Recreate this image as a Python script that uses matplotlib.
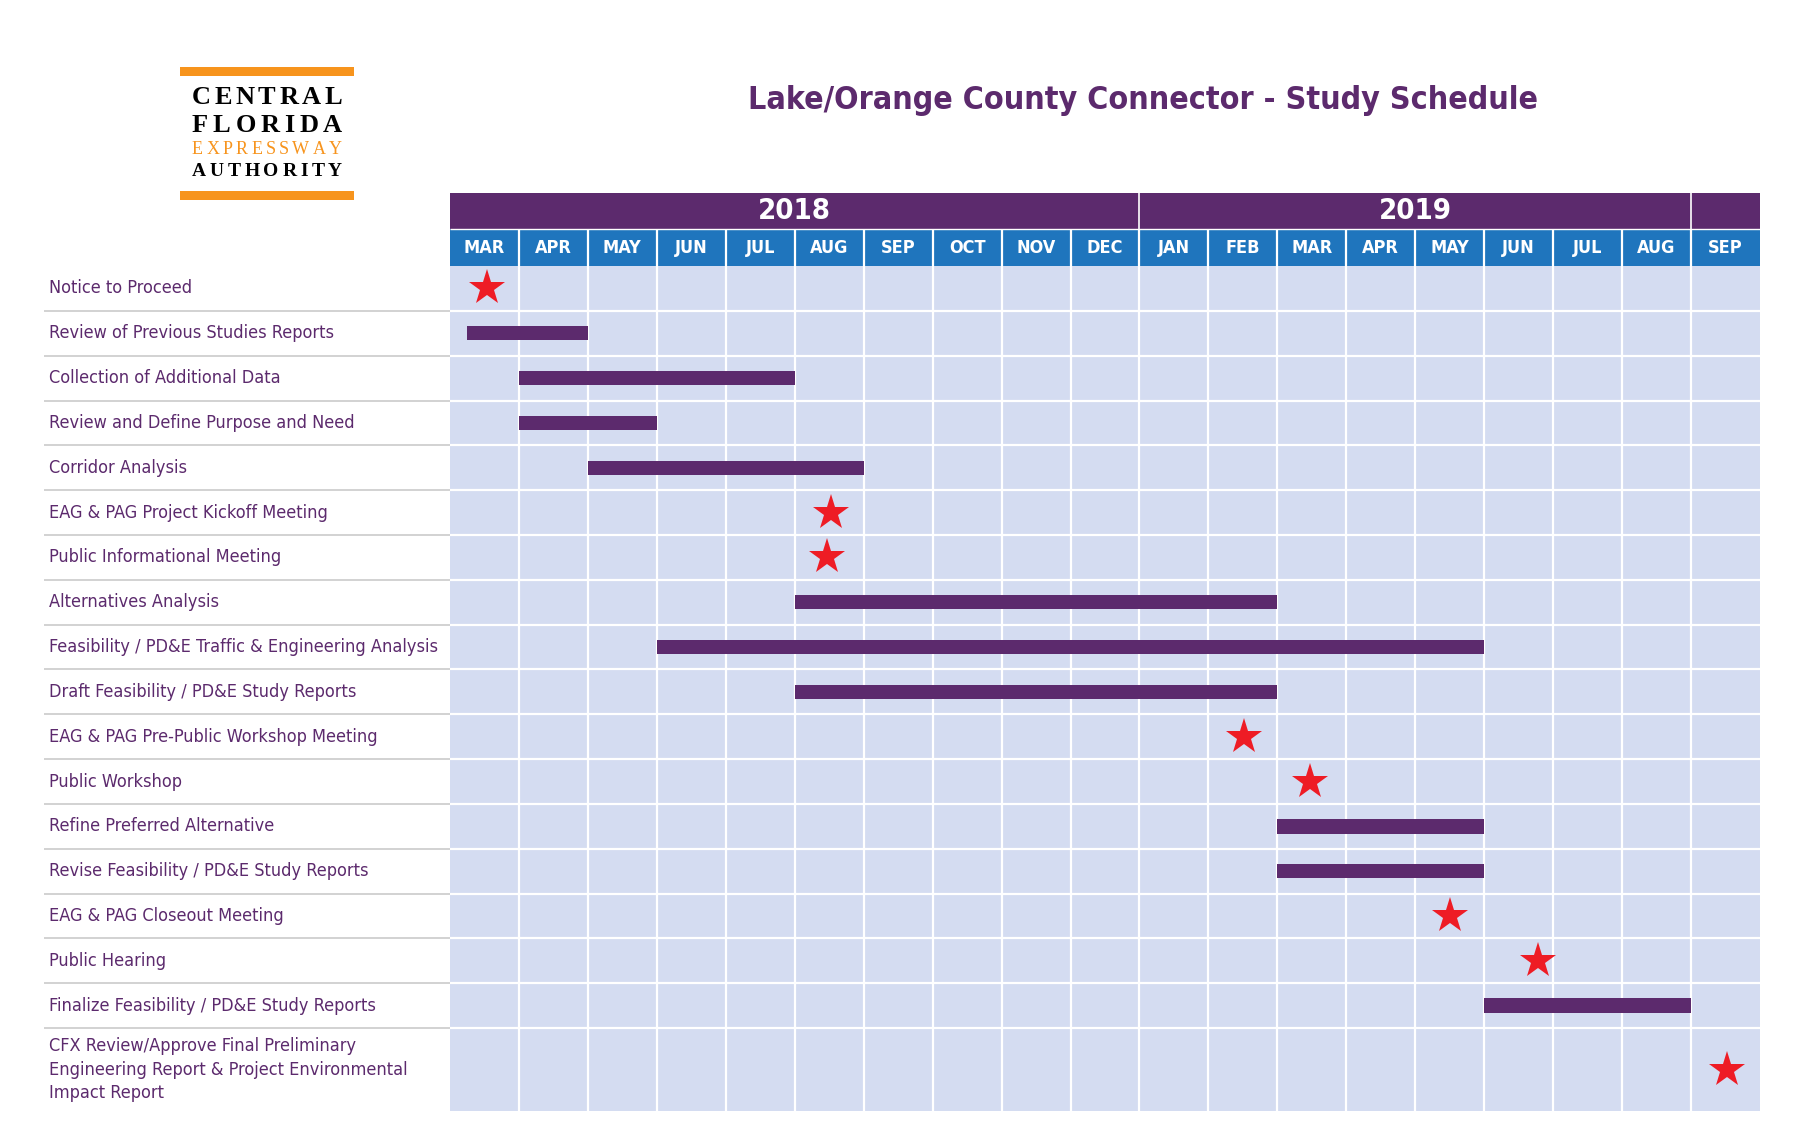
import os
import matplotlib
matplotlib.use("Agg")
import matplotlib.pyplot as plt
from matplotlib.patches import Rectangle
from matplotlib import font_manager
from matplotlib.font_manager import FontProperties
import numpy as np

# --- data -----------------------------------------------------------------
months = ["MAR", "APR", "MAY", "JUN", "JUL", "AUG", "SEP", "OCT", "NOV", "DEC",
          "JAN", "FEB", "MAR", "APR", "MAY", "JUN", "JUL", "AUG", "SEP"]
years = ["2018", "2019", ""]
year_start = [0, 10, 18]
year_end = [10, 18, 19]

tasks = [
    "Notice to Proceed",
    "Review of Previous Studies Reports",
    "Collection of Additional Data",
    "Review and Define Purpose and Need",
    "Corridor Analysis",
    "EAG & PAG Project Kickoff Meeting",
    "Public Informational Meeting",
    "Alternatives Analysis",
    "Feasibility / PD&E Traffic & Engineering Analysis",
    "Draft Feasibility / PD&E Study Reports",
    "EAG & PAG Pre-Public Workshop Meeting",
    "Public Workshop",
    "Refine Preferred Alternative",
    "Revise Feasibility / PD&E Study Reports",
    "EAG & PAG Closeout Meeting",
    "Public Hearing",
    "Finalize Feasibility / PD&E Study Reports",
    "CFX Review/Approve Final Preliminary\nEngineering Report & Project Environmental\nImpact Report",
]
# months counted from the start of March 2018
bar_start = [None, 0.25, 1, 1, 2, None, None, 5, 3, 5, None, None, 12, 12, None, None, 15, None]
bar_end = [None, 2, 5, 3, 6, None, None, 12, 15, 12, None, None, 15, 15, None, None, 18, None]
star_at = [0.53, None, None, None, None, 5.52, 5.47, None, None, None,
           11.52, 12.47, None, None, 14.5, 15.78, None, 18.52]
row_height = [1] * 17 + [1.85]

# --- style ----------------------------------------------------------------
PURPLE = "#5c2a6d"
BLUE = "#1f75bd"
CELL = "#d4dcf1"
RED = "#ee1c25"
ORANGE = "#f7941d"

files = {os.path.basename(p): p for p in font_manager.findSystemFonts()}
files.update({os.path.basename(f.fname): f.fname for f in font_manager.fontManager.ttflist})


def pick(cands):
    for c in cands:
        if c in files:
            return files[c]
    return None


reg_file = pick(["LiberationSansNarrow-Regular.ttf", "DejaVuSansCondensed.ttf",
                 "RobotoCondensed-Regular.ttf", "OpenSans_Condensed-Regular.ttf"])
bold_file = pick(["LiberationSansNarrow-Bold.ttf", "DejaVuSansCondensed-Bold.ttf",
                  "RobotoCondensed-Bold.ttf", "OpenSans_Condensed-Bold.ttf"])
condensed = reg_file is not None and bold_file is not None


def fp(size, bold=False):
    if condensed:
        return FontProperties(fname=bold_file if bold else reg_file, size=size)
    return FontProperties(family="DejaVu Sans", size=size * 0.85,
                          weight="bold" if bold else "normal")


W, H = 1800, 1145
fig = plt.figure(figsize=(W / 100, H / 100), dpi=100)

# grid axes: pixel box 450..1760 x 193..1111
gl, gr, gt, gb = 450, 1760, 193, 1111
ax = fig.add_axes([gl / W, 1 - gb / H, (gr - gl) / W, (gb - gt) / H])
px_row = 44.8
year_h = 36 / px_row
month_h = 37 / px_row
top = -(year_h + month_h)
bounds = np.concatenate([[0], np.cumsum(row_height)])
total = bounds[-1]
centers = (bounds[:-1] + bounds[1:]) / 2
ax.set_xlim(0, len(months))
ax.set_ylim(total, top)
ax.axis("off")

# cells
ax.add_patch(Rectangle((0, 0), len(months), total, facecolor=CELL, edgecolor="none"))
ax.vlines(np.arange(1, len(months)), 0, total, color="white", lw=1.6)
ax.hlines(bounds[1:-1], 0, len(months), color="white", lw=1.6)

# header: years
for s, e, y in zip(year_start, year_end, years):
    ax.add_patch(Rectangle((s, top), e - s, year_h, facecolor=PURPLE, edgecolor="none"))
    ax.text((s + e) / 2, top + year_h / 2, y, color="white", fontproperties=fp(21, True),
            ha="center", va="center")
ax.vlines(year_start[1:], top, top + year_h, color="white", lw=1.2)

# header: months
ax.add_patch(Rectangle((0, -month_h), len(months), month_h, facecolor=BLUE, edgecolor="none"))
for i, m in enumerate(months):
    ax.text(i + 0.5, -month_h / 2, m, color="white", fontproperties=fp(13, True),
            ha="center", va="center")
ax.vlines(np.arange(1, len(months)), -month_h, 0, color="white", lw=1.6)
ax.hlines(-month_h, 0, len(months), color="white", lw=1.0)

# bars and milestones
for c, s, e, st in zip(centers, bar_start, bar_end, star_at):
    if s is not None:
        ax.barh(c, e - s, left=s, height=0.32, color=PURPLE, zorder=3)
    if st is not None:
        ax.plot(st, c, marker="*", markersize=27, color=RED, markeredgewidth=0, zorder=4)

# task labels
px_month = (gr - gl) / len(months)
label_x = (49 - gl) / px_month
line_x = (44 - gl) / px_month
ax.hlines(bounds[1:-1], line_x, 0, color="#cfcfcf", lw=1.3, clip_on=False)
for c, t in zip(centers, tasks):
    ax.text(label_x, c, t, color=PURPLE, fontproperties=fp(13),
            ha="left", va="center", linespacing=1.4, clip_on=False)

# title
fig.text(1143 / W, 1 - 101 / H, "Lake/Orange County Connector - Study Schedule",
         color=PURPLE, fontproperties=fp(23, True), ha="center", va="center")

# logo
lax = fig.add_axes([180 / W, 1 - 200 / H, 174 / W, 133 / H])
lax.set_xlim(0, 174)
lax.set_ylim(133, 0)
lax.axis("off")
lax.add_patch(Rectangle((0, 0), 174, 9, facecolor=ORANGE, edgecolor="none"))
lax.add_patch(Rectangle((0, 124), 174, 9, facecolor=ORANGE, edgecolor="none"))
logo_words = ["CENTRAL", "FLORIDA", "EXPRESSWAY", "AUTHORITY"]
logo_y = [31, 58, 83, 105]
logo_size = [19, 19, 13, 14]
logo_weight = ["bold", "bold", "normal", "bold"]
logo_color = ["black", "black", ORANGE, "black"]
renderer = fig.canvas.get_renderer()
x0, x1 = 12, 162
for word, y, fs, wt, col in zip(logo_words, logo_y, logo_size, logo_weight, logo_color):
    letters = []
    for ch in word:
        t = lax.text(0, y, ch, color=col, fontsize=fs, fontweight=wt,
                     family="Liberation Serif", ha="left", va="center")
        letters.append(t)
    widths = [t.get_window_extent(renderer).width for t in letters]
    gap = (x1 - x0 - sum(widths)) / (len(word) - 1)
    x = x0
    for t, w in zip(letters, widths):
        t.set_x(x)
        x += w + gap

fig.savefig("out.png", dpi=100, facecolor="white")
